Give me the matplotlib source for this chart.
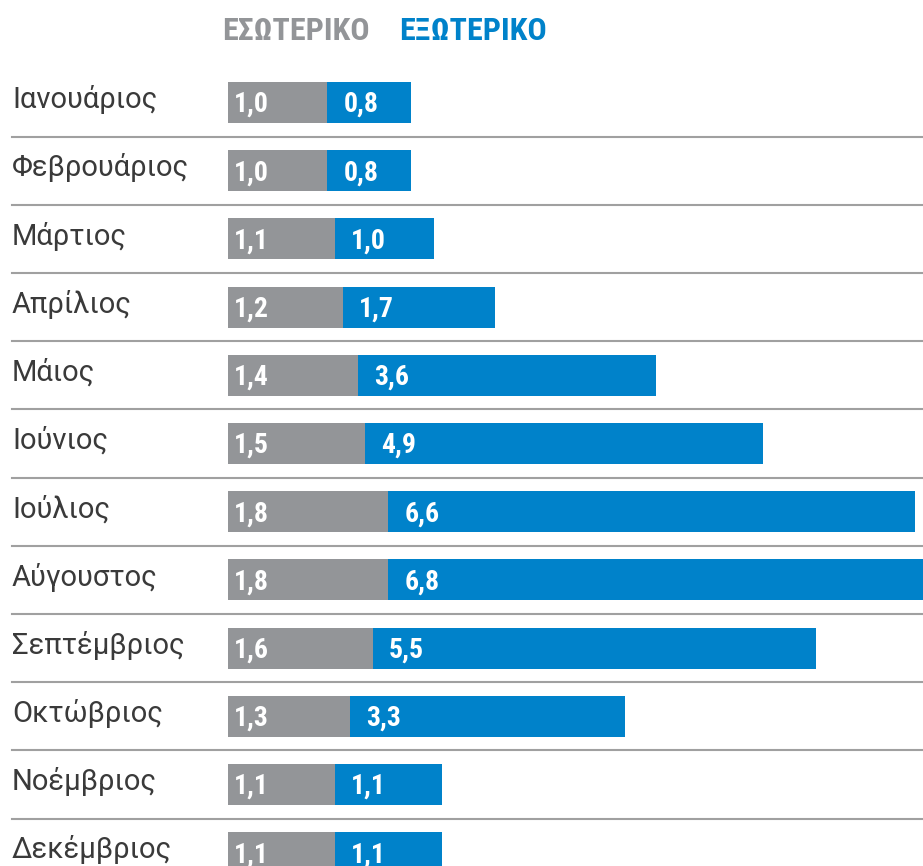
import matplotlib
matplotlib.use("Agg")
import matplotlib.pyplot as plt
from matplotlib import font_manager
from matplotlib.transforms import blended_transform_factory

months = ["Ιανουάριος", "Φεβρουάριος", "Μάρτιος", "Απρίλιος", "Μάιος", "Ιούνιος",
          "Ιούλιος", "Αύγουστος", "Σεπτέμβριος", "Οκτώβριος", "Νοέμβριος", "Δεκέμβριος"]
domestic = [1.0, 1.0, 1.1, 1.2, 1.4, 1.5, 1.8, 1.8, 1.6, 1.3, 1.1, 1.1]
foreign = [0.8, 0.8, 1.0, 1.7, 3.6, 4.9, 6.6, 6.8, 5.5, 3.3, 1.1, 1.1]
series_names = ["ΕΣΩΤΕΡΙΚΟ", "ΕΞΩΤΕΡΙΚΟ"]

GRAY = "#939598"
BLUE = "#0082ca"
PAD = 0.3  # extra room for the value label inside each segment

available = {f.name for f in font_manager.fontManager.ttflist}


def pick(cands):
    for c in cands:
        if c in available:
            return c
    return "DejaVu Sans"


cond = pick(["Roboto Condensed", "Liberation Sans Narrow", "DejaVu Sans Condensed", "Roboto"])
regular = pick(["Roboto", "Liberation Sans", "DejaVu Sans"])

W, H = 923, 866
fig = plt.figure(figsize=(W / 100, H / 100), dpi=100)
ax = fig.add_axes([228 / W, 0, 695 / W, 1])

pitch = 68.2
y0 = 102.5
ax.set_ylim((H - y0) / pitch, -y0 / pitch)
ax.set_xlim(0, 9.1)  # longest bar runs slightly past the right edge
ax.axis("off")

ypos = list(range(len(months)))
gw = [d + PAD for d in domestic]
bw = [f + PAD for f in foreign]
ax.barh(ypos, gw, height=0.6, color=GRAY)
ax.barh(ypos, bw, left=gw, height=0.6, color=BLUE)

for i in ypos:
    ax.annotate(f"{domestic[i]:.1f}".replace(".", ","), xy=(0, i), xytext=(6, -2),
                textcoords="offset pixels", color="white", fontsize=20,
                fontweight="bold", family=cond, va="center", ha="left")
    ax.annotate(f"{foreign[i]:.1f}".replace(".", ","), xy=(gw[i], i), xytext=(16, -2),
                textcoords="offset pixels", color="white", fontsize=20,
                fontweight="bold", family=cond, va="center", ha="left")

# row separators and month names span from the left edge of the figure
tr = blended_transform_factory(fig.transFigure, ax.transData)
for i in ypos[:-1]:
    ax.plot([12 / W, 1], [i + 0.5, i + 0.5], color="#a0a0a0", lw=1.5,
            transform=tr, clip_on=False)
for i, m in enumerate(months):
    ax.text(12 / W, i - 0.04, m, transform=tr, fontsize=21, family=regular,
            color="#3a3a3a", va="center", ha="left")

# legend
fig.text(222 / W, 1 - 31.5 / H, series_names[0], color=GRAY, fontsize=23,
         fontweight="bold", family=cond, va="center", ha="left")
fig.text(399 / W, 1 - 31.5 / H, series_names[1], color=BLUE, fontsize=23,
         fontweight="bold", family=cond, va="center", ha="left")

fig.savefig("out.png", dpi=100)
